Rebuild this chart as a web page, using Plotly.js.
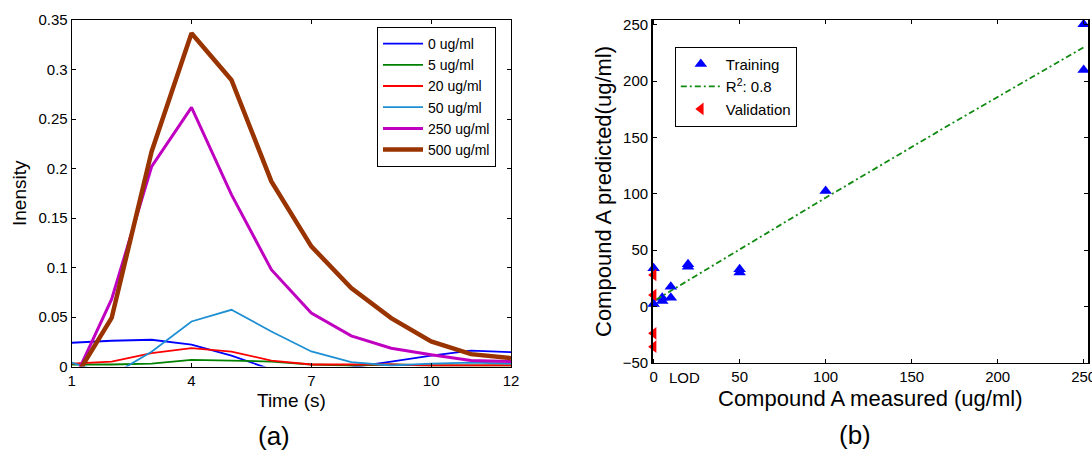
<!DOCTYPE html>
<html><head><meta charset="utf-8">
<script src="https://cdn.plot.ly/plotly-3.0.1.min.js"></script>
<style>html,body{margin:0;padding:0;background:#fff;} #chart{width:1092px;height:450px;}</style>
</head><body><div id="chart"></div>
<script>
// ---- Panel (a): intensity vs time ----
const timeSec = [1,2,3,4,5,6,7,8,9,10,11,12];
const int0   = [0.024,0.026,0.027,0.022,0.011,-0.003,-0.005,-0.001,0.005,0.011,0.016,0.0145];
const int5   = [0.002,0.002,0.003,0.0067,0.006,0.005,0.002,0.001,0.002,0.001,0.001,0.001];
const int20  = [0.003,0.005,0.0135,0.0185,0.015,0.006,0.002,0.002,0.002,0.001,0.001,0.001];
const int50  = [0.004,-0.009,0.015,0.0455,0.0573,0.0354,0.0152,0.0044,0.001,0.003,0.004,0.003];
const int250 = [-0.019,0.068,0.2018,0.2618,0.1736,0.0978,0.054,0.031,0.0185,0.0118,0.006,0.005];
const int500 = [-0.017,0.049,0.217,0.3366,0.2894,0.187,0.1214,0.0792,0.0489,0.0253,0.0125,0.0084];
const seriesNames = ['0 ug/ml','5 ug/ml','20 ug/ml','50 ug/ml','250 ug/ml','500 ug/ml'];
const timeTicks = [1,4,7,10,12];
const intTicks = [0,0.05,0.1,0.15,0.2,0.25,0.3,0.35];
const intTickText = ['0','0.05','0.1','0.15','0.2','0.25','0.3','0.35'];

// ---- Panel (b): predicted vs measured ----
const trainX = [0,0,5,5,10,10,20,20,50,50,100,250,250];
const trainY = [33.8,2.1,7.7,4.8,17.5,7.7,37.4,35.3,33,30,102.5,250.6,210];
const valX = [0,0,0,0];
const valY = [27.9,10.1,-23.9,-35.8];
const fitX = [1.5,50,100,170,250];
const fitY = [6,50.5,96.5,159.5,230];
const measTicks = [0,50,100,150,200,250];
const predTicks = [-50,0,50,100,150,200,250];

const FONT = 'Arial, "Liberation Sans", Helvetica, sans-serif';
const seriesVals = [int0,int5,int20,int50,int250,int500];
const seriesColors = ['#0000ff','#008000','#ff0000','#1e8fd2','#c000c0','#993300'];
const seriesWidths = [1.8,1.8,1.8,1.8,3,4.5];

const traces = seriesVals.map((v,i)=>({
  x: timeSec, y: v, type:'scatter', mode:'lines', name: seriesNames[i],
  line:{color:seriesColors[i], width:seriesWidths[i]}, xaxis:'x', yaxis:'y', legend:'legend'
}));
traces.push({x:trainX, y:trainY, type:'scatter', mode:'markers', name:'Training',
  marker:{symbol:'triangle-up', color:'#0000ff', size:11}, xaxis:'x2', yaxis:'y2', legend:'legend2', cliponaxis:false});
traces.push({x:fitX, y:fitY, type:'scatter', mode:'lines', name:'R<sup>2</sup>: 0.8',
  line:{color:'#108a10', width:1.8, dash:'6px,3px,2px,3px'}, xaxis:'x2', yaxis:'y2', legend:'legend2'});
traces.push({x:valX, y:valY, type:'scatter', mode:'markers', name:'Validation',
  marker:{symbol:'triangle-left', color:'#ff0000', size:11}, xaxis:'x2', yaxis:'y2', legend:'legend2', cliponaxis:false});

const axBase = {showline:true, linecolor:'#000', linewidth:1, mirror:'ticks', ticks:'inside', ticklen:4,
  tickcolor:'#000', showgrid:false, zeroline:false, ticklabeloverflow:'allow',
  tickfont:{family:FONT, size:15, color:'#000'}};

const W=1092, H=450;
function ann(text, x, y, size, angle, xref){
  return {text:text, xref:xref||'paper', yref:'paper', x:xref?x:x/W, y:1-y/H, xanchor:'center', yanchor:'middle',
    showarrow:false, textangle:angle||0, font:{family:FONT,size:size,color:'#000'}};
}
const layout = {
  width:W, height:H, margin:{l:0,r:0,t:0,b:0}, paper_bgcolor:'#fff', plot_bgcolor:'#fff',
  font:{family:FONT, color:'#000'}, showlegend:true,
  xaxis: Object.assign({}, axBase, {domain:[71.7/W, 511/W], range:[1,12], tickvals:timeTicks, anchor:'y'}),
  yaxis: Object.assign({}, axBase, {domain:[1-366.5/H, 1-20/H], range:[0,0.35], tickvals:intTicks, ticktext:intTickText, anchor:'x'}),
  xaxis2: Object.assign({}, axBase, {domain:[652.6/W, 1088.3/W], range:[-0.6,252.7], tickvals:measTicks, anchor:'y2'}),
  yaxis2: Object.assign({}, axBase, {domain:[1-362.7/H, 1-20.4/H], range:[-50,254], tickvals:predTicks, anchor:'x2', linewidth:1.5}),
  legend:{x:377/W, y:1-27/H, xanchor:'left', yanchor:'top', bordercolor:'#000', borderwidth:1, bgcolor:'#fff',
    font:{family:FONT,size:14,color:'#000'}, itemwidth:40, tracegroupgap:0},
  legend2:{x:674.8/W, y:1-46.7/H, xanchor:'left', yanchor:'top', bordercolor:'#000', borderwidth:1, bgcolor:'#fff',
    font:{family:FONT,size:15,color:'#000'}, itemwidth:40, tracegroupgap:0},
  annotations:[
    ann('Time (s)', 291, 400, 19),
    ann('Inensity', 19, 193, 19, -90),
    ann('Compound A measured (ug/ml)', 870.5, 398, 22),
    ann('Compound A predicted(ug/ml)', 603.4, 191.6, 22, -90),
    ann('LOD', 17.8, 377, 15, 0, 'x2'),
    ann('(a)', 274, 436, 26),
    ann('(b)', 855, 435, 26)
  ]
};
Plotly.newPlot('chart', traces, layout, {displayModeBar:false, staticPlot:true});
</script></body></html>
